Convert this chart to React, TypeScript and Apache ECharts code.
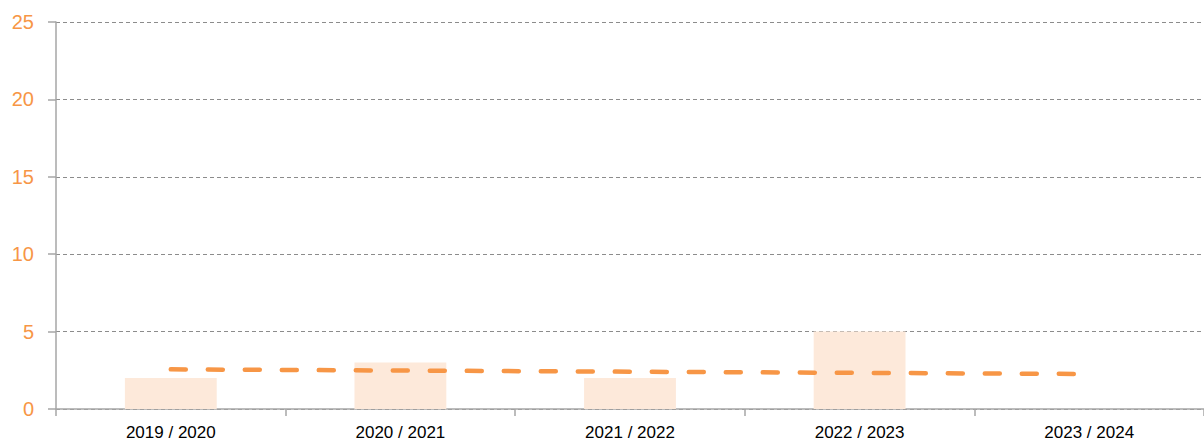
import React, { useEffect, useRef } from "react";
import * as echarts from "echarts";

const categories = ["2019 / 2020", "2020 / 2021", "2021 / 2022", "2022 / 2023", "2023 / 2024"];
const barValues = [2, 3, 2, 5, 0];
const trendValues = [2.56, 2.485, 2.41, 2.335, 2.26];
const yMin = 0;
const yMax = 25;
const yInterval = 5;

export default function App() {
  const ref = useRef<HTMLDivElement>(null);
  useEffect(() => {
    if (!ref.current) return;
    const chart = echarts.init(ref.current, undefined, { renderer: "svg" });
    chart.setOption({
      animation: false,
      grid: { left: 56, right: -2, top: 22, bottom: 34, containLabel: false },
      xAxis: {
        type: "category",
        data: categories,
        boundaryGap: true,
        axisLine: { lineStyle: { color: "#A6A6A6", width: 1.5 } },
        axisTick: { show: true, alignWithLabel: false, length: 7, inside: false, lineStyle: { color: "#A6A6A6", width: 1.5 } },
        axisLabel: { color: "#000000", fontSize: 17, fontFamily: "Liberation Sans", margin: 15 },
        splitLine: { show: false },
      },
      yAxis: {
        type: "value",
        min: yMin,
        max: yMax,
        interval: yInterval,
        axisLine: { show: true, lineStyle: { color: "#A6A6A6", width: 1.5 } },
        axisTick: { show: true, length: 8, lineStyle: { color: "#A6A6A6", width: 1.5 } },
        axisLabel: { color: "#F79646", fontSize: 20, fontFamily: "Liberation Sans", margin: 22 },
        splitLine: { show: true, lineStyle: { color: "#8C8C8C", type: [4, 3], width: 1 } },
      },
      series: [
        {
          type: "bar",
          data: barValues,
          barWidth: "40%",
          itemStyle: { color: "#FDE9DA" },
          silent: true,
        },
        {
          type: "line",
          data: trendValues,
          symbol: "none",
          lineStyle: { color: "#F79646", width: 4.5, type: [15, 22], cap: "round" },
          silent: true,
          z: 5,
        },
      ],
    });
    return () => chart.dispose();
  }, []);
  return (
    <div
      ref={ref}
      style={{ position: "absolute", left: 0, top: 0, width: 1204, height: 443 }}
    />
  );
}
